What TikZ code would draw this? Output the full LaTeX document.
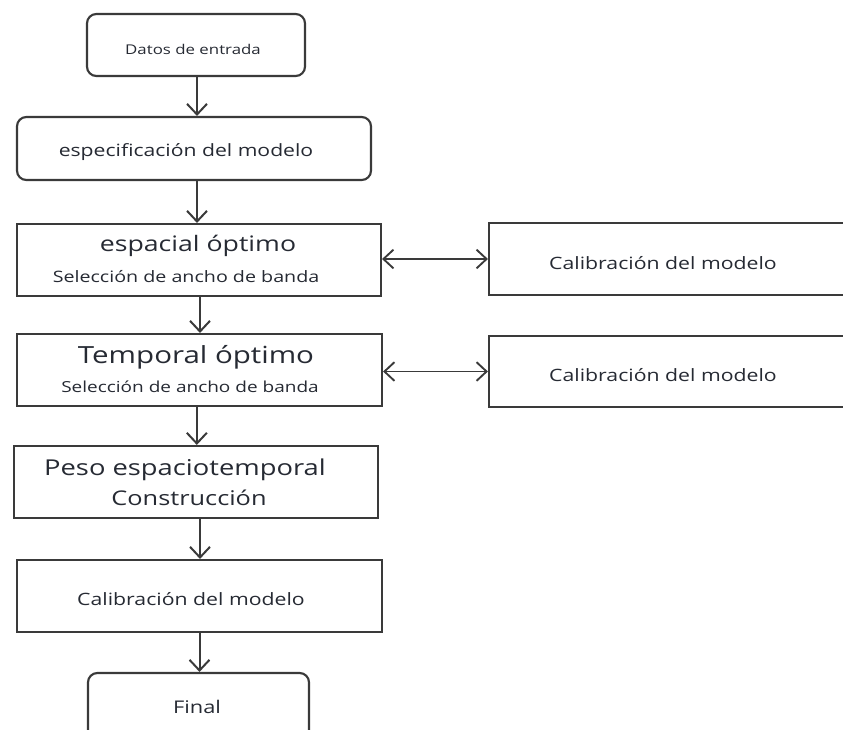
\documentclass[tikz,border=0pt]{standalone}
\usepackage{fontspec}
\setmainfont[FakeStretch=1.25]{Open Sans}
\usetikzlibrary{arrows.meta}
\definecolor{ln}{HTML}{3A3A3A}
\definecolor{tx}{HTML}{262A33}
\newcommand{\fs}[1]{\fontsize{#1}{#1}\selectfont}
\tikzset{
  box/.style={draw=ln, line width=1.6pt, fill=white, inner sep=0pt},
  rbox/.style={box, rounded corners=7pt},
  lbl/.style={text=tx, inner sep=0pt, anchor=center},
  arr/.style={draw=ln, line width=1.5pt, -{Straight Barb[length=8pt,width=15pt,line width=1.5pt]}},
  darr/.style={draw=ln, line width=1.4pt, {Straight Barb[length=7.5pt,width=14pt,line width=1.4pt]}-{Straight Barb[length=7.5pt,width=14pt,line width=1.4pt]}}
}
\begin{document}
\begin{tikzpicture}[x=0.75pt,y=-0.75pt]
\useasboundingbox[fill=white] (0,0) rectangle (843,729);
% boxes
\node[rbox, minimum width=218*0.75pt, minimum height=62*0.75pt] (b1) at (196,45) {};
\node[rbox, minimum width=354*0.75pt, minimum height=63*0.75pt] (b2) at (194,148.5) {};
\node[box, minimum width=364*0.75pt, minimum height=72*0.75pt] (b3) at (199,260) {};
\node[box, minimum width=365*0.75pt, minimum height=72*0.75pt] (b4) at (199.5,370) {};
\node[box, minimum width=364*0.75pt, minimum height=72*0.75pt] (b5) at (196,482) {};
\node[box, minimum width=365*0.75pt, minimum height=72*0.75pt] (b6) at (199.5,596) {};
\node[rbox, minimum width=221*0.75pt, minimum height=100*0.75pt] (b7) at (198.5,723) {};
\node[box, minimum width=420*0.75pt, minimum height=72*0.75pt] (r1) at (699,259) {};
\node[box, minimum width=420*0.75pt, minimum height=71*0.75pt] (r2) at (699,371.5) {};
% texts
\node[lbl] (t1) at (193,49) {\fs{10.1pt}Datos de entrada};
\node[lbl] (t2) at (186,152) {\fs{12.7pt}especificación del modelo};
\node[lbl] (t3a) at (198,246) {\fs{16pt}espacial óptimo};
\node[lbl] (t3b) at (186,277) {\fs{11.8pt}Selección de ancho de banda};
\node[lbl] (t4a) at (196,357) {\fs{17.7pt}Temporal óptimo};
\node[lbl] (t4b) at (190,387) {\fs{11.4pt}Selección de ancho de banda};
\node[lbl] (t5a) at (185,470) {\fs{16.4pt}Peso espaciotemporal};
\node[lbl] (t5b) at (189,498) {\fs{15.2pt}Construcción};
\node[lbl] (t6) at (191,599) {\fs{12.75pt}Calibración del modelo};
\node[lbl] (t7) at (197,707) {\fs{13.1pt}Final};
\node[lbl] (tr1) at (663,263) {\fs{12.75pt}Calibración del modelo};
\node[lbl] (tr2) at (663,375) {\fs{12.75pt}Calibración del modelo};
% connectors
\draw[arr] ([xshift=0.75pt]b1.south) -- ([xshift=0.75pt]b1.south |- b2.north);
\draw[arr] ([xshift=2.25pt]b2.south) -- ([xshift=2.25pt]b2.south |- b3.north);
\draw[arr] ([xshift=0.75pt]b3.south) -- ([xshift=0.75pt]b3.south |- b4.north);
\draw[arr] ([xshift=-2pt]b4.south) -- ([xshift=-2pt]b4.south |- b5.north);
\draw[arr] ([xshift=3pt]b5.south) -- ([xshift=3pt]b5.south |- b6.north);
\draw[arr] (b6.south) -- (b6.south |- b7.north);
\draw[darr] (b3.east |- r1.west) -- (r1.west);
\draw[darr] (b4.east |- r2.west) -- (r2.west);
\end{tikzpicture}
\end{document}
